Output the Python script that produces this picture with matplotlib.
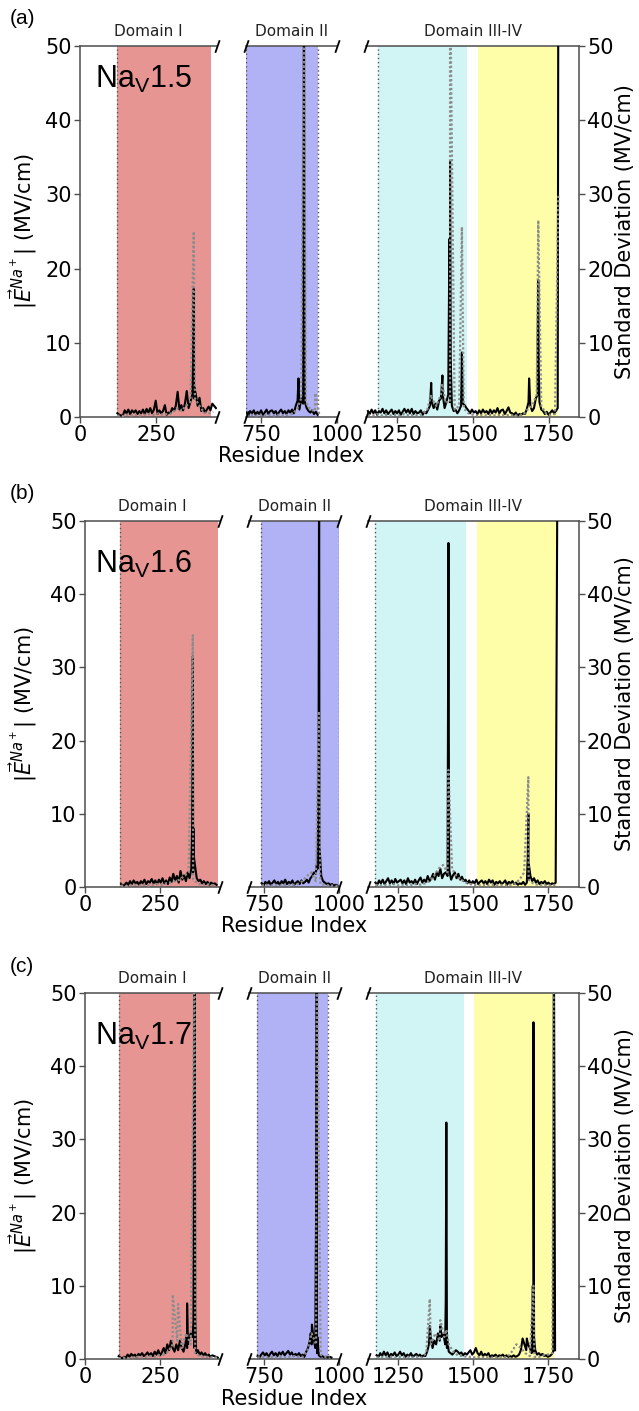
import numpy as np
import matplotlib
matplotlib.use('Agg')
import matplotlib.pyplot as plt

W, H = 639, 1411
fig = plt.figure(figsize=(W / 100, H / 100), dpi=100)

# ---------------- data ----------------
segments = [(0, 450), (700, 1000), (1150, 1850)]
seg_ticks = [[0, 250], [750, 1000], [1250, 1500, 1750]]
domain_titles = ["Domain I", "Domain II", "Domain III-IV"]
panel_letters = ["(a)", "(b)", "(c)"]
channel_names = ["1.5", "1.6", "1.7"]

# domain shading spans (residue index)
spans_a = [(123, 430), (702, 938), (1189, 1481), (1518, 1782)]
spans_b = [(118, 443), (740, 999), (1173, 1476), (1513, 1780)]
spans_c = [(112, 417), (727, 963), (1177, 1470), (1503, 1768)]
bounds_a = [123, 702, 938, 1189]
bounds_b = [118, 740, 999, 1173]
bounds_c = [112, 727, 963, 1177]
span_colors = ["#e79593", "#b1b1f6", "#d1f5f4", "#fefea9"]

MEAN_STEP = 6
STD_STEP = 15

# ---- Nav1.5 ----
a1_start = 123
a1_mean = [0.5, 0.3, 0.2, 0.2, 0.9, 0.5, 1.0, 0.4, 0.9, 0.6, 0.9, 0.4, 0.8, 0.5, 1.0, 0.4,
           1.1, 0.6, 1.2, 0.5, 1.0, 2.2, 0.4, 0.9, 0.5, 0.8, 1.6, 0.3, 0.6, 0.5, 1.2, 0.8,
           1.5, 3.4, 1.0, 1.6, 0.9, 1.8, 3.5, 1.2, 2.0, 3.0, 2.5, 3.0, 1.5, 2.6, 0.8, 1.2,
           0.6, 1.0, 1.4, 0.9, 1.8, 1.5, 1.2]
a1_std = [0.2, 0.1, 0.3, 0.2, 0.3, 0.2, 0.3, 0.4, 0.3, 0.5, 0.3, 0.4, 0.5, 1.2, 0.8, 1.5,
          2.0, 2.5, 1.5, 0.6, 0.5, 0.7]
a2_start = 702
a2_mean = [0.6, 0.2, 0.8, 0.5, 0.9, 0.3, 0.7, 0.4, 0.9, 0.3, 0.6, 1.0, 0.4, 0.8, 0.9, 0.5,
           0.8, 0.3, 0.7, 1.0, 0.5, 0.8, 0.4, 0.9, 0.6, 1.0, 0.5, 1.5, 2.2, 1.0, 2.5, 1.8,
           2.0, 1.2, 0.8, 0.6, 0.9, 0.4, 0.7, 0.3]
a2_std = [0.2, 0.3, 0.2, 0.3, 0.2, 0.3, 0.2, 0.3, 0.2, 0.3, 0.4, 1.0, 2.5, 2.0, 1.0, 0.8, 0.2]
a3_start = 1156
a3_mean = [0.8, 0.4, 1.0, 0.5, 0.9, 0.3, 0.8, 0.6, 1.1, 0.5, 0.9, 0.4, 0.7, 1.0, 0.4, 0.8,
           0.5, 0.9, 0.3, 0.7, 1.1, 0.6, 1.0, 0.5, 1.1, 0.4, 0.8, 0.5, 0.6, 0.9, 0.3, 0.7,
           0.5, 1.0, 1.5, 2.0, 1.2, 1.8, 1.0, 2.2, 2.5, 3.0, 1.2, 2.0, 3.0, 2.0, 1.5, 0.8,
           1.0, 0.5, 0.9, 1.5, 1.8, 1.6, 1.2, 0.9, 0.5, 1.0, 0.6, 0.8, 0.4, 0.9, 0.5, 1.0,
           0.6, 0.8, 0.4, 1.0, 0.5, 0.9, 0.6, 1.2, 0.5, 0.9, 1.0, 0.4, 0.8, 1.3, 0.6, 0.5,
           0.3, 0.6, 0.2, 0.4, 0.3, 0.5, 0.4, 1.0, 2.0, 1.5, 0.8, 1.2, 2.5, 3.0, 2.0, 1.0,
           0.8, 0.4, 0.7, 0.3, 0.6, 0.9, 0.5, 0.8, 1.2]
a3_std = [0.3, 0.2, 0.4, 0.2, 0.3, 0.2, 0.3, 0.2, 0.4, 0.2, 0.3, 0.2, 0.4, 1.0, 2.5, 1.5,
          3.0, 2.0, 2.0, 1.0, 1.5, 1.2, 0.5, 0.3, 0.2, 0.3, 0.2, 0.3, 0.2, 0.3, 0.2, 0.3,
          0.2, 0.2, 0.3, 1.0, 1.5, 3.0, 1.5, 0.5, 0.3, 0.4]
a_peak_res = [372, 374, 376, 873, 889, 891, 893, 1364, 1401, 1424, 1426, 1428, 1465,
              1686, 1714, 1716, 1718, 1782]
a_peak_mean = [7.8, 17.3, 4.0, 5.2, 15.2, 60.0, 6.0, 4.6, 5.6, 24.0, 34.5, 8.0, 8.7,
               5.2, 10.0, 18.5, 6.0, 60.0]
a_peak_std_res = [374, 891, 928, 1364, 1400, 1426, 1465, 1716, 1782]
a_peak_std = [25.0, 60.0, 3.2, 3.0, 4.5, 60.0, 25.6, 26.5, 30.0]

# ---- Nav1.6 ----
b1_start = 120
b1_mean = [0.4, 0.2, 0.3, 0.6, 0.3, 0.8, 0.4, 0.9, 0.5, 0.7, 0.3, 0.8, 0.5, 1.0, 0.4, 0.8,
           0.6, 1.1, 0.5, 0.9, 0.4, 1.0, 0.6, 1.2, 0.5, 0.9, 0.4, 1.3, 0.7, 1.8, 0.9, 1.5,
           0.6, 2.2, 1.0, 1.6, 0.8, 2.0, 1.2, 2.5, 2.0, 3.0, 1.2, 0.8, 1.0, 0.5, 0.8, 0.4,
           0.7, 0.3, 0.6, 0.4, 0.5, 0.3]
b1_std = [0.2, 0.1, 0.2, 0.3, 0.2, 0.3, 0.2, 0.3, 0.4, 0.3, 0.5, 0.6, 0.8, 1.0, 1.5, 2.0,
          1.0, 0.5, 0.3, 0.4, 0.3, 0.2]
b2_start = 742
b2_mean = [0.5, 0.2, 0.7, 0.4, 0.8, 0.3, 0.6, 0.9, 0.4, 0.7, 0.3, 0.8, 0.5, 1.0, 0.4, 0.7,
           0.5, 0.9, 0.3, 0.6, 0.8, 0.4, 0.9, 0.5, 0.7, 1.0, 0.6, 1.2, 1.5, 2.0, 1.8, 2.5,
           3.0, 1.5, 0.8, 0.6, 0.4, 0.5, 0.3, 0.4, 0.2, 0.3, 0.2]
b2_std = [0.2, 0.3, 0.2, 0.3, 0.2, 0.3, 0.2, 0.3, 0.4, 0.8, 1.5, 2.0, 0.8, 0.4, 0.3, 0.2, 0.2, 0.1]
b3_start = 1174
b3_mean = [0.6, 0.3, 0.9, 0.5, 1.0, 0.4, 0.8, 1.2, 0.5, 0.9, 0.4, 1.1, 0.6, 0.8, 1.0, 0.5,
           0.9, 0.4, 1.2, 0.6, 0.8, 0.5, 1.0, 0.4, 0.9, 1.3, 0.6, 1.0, 0.7, 1.5, 0.8, 1.2,
           1.8, 1.0, 2.0, 1.5, 2.5, 1.2, 1.8, 2.0, 1.5, 2.2, 1.0, 1.6, 2.0, 1.2, 1.8, 1.0,
           1.4, 0.8, 1.0, 0.5, 0.9, 0.4, 0.8, 0.5, 1.0, 0.4, 0.7, 0.9, 0.5, 0.8, 0.4, 1.0,
           0.6, 0.9, 0.3, 0.7, 0.5, 0.8, 0.4, 0.6, 0.9, 0.3, 0.7, 0.5, 0.8, 0.4, 0.6, 0.3,
           0.5, 0.4, 0.7, 0.3, 0.6, 1.0, 1.5, 0.8, 1.2, 0.6, 0.9, 0.4, 0.7, 0.5, 0.8, 0.4,
           0.6, 0.3, 0.5, 0.4, 0.6]
b3_std = [0.3, 0.2, 0.3, 0.2, 0.4, 0.2, 0.3, 0.2, 0.3, 0.4, 0.3, 0.5, 0.8, 1.5, 2.5, 3.0,
          2.0, 2.5, 1.5, 1.0, 0.6, 0.4, 0.3, 0.2, 0.3, 0.2, 0.3, 0.2, 0.3, 0.2, 0.3, 0.5,
          1.0, 2.0, 1.0, 0.5, 0.3, 0.2, 0.3, 0.2, 0.3]
b_peak_res = [357, 359, 361, 363, 925, 931, 933, 935, 1415, 1417, 1419, 1681, 1683, 1685, 1780]
b_peak_mean = [9.0, 31.5, 8.0, 4.0, 3.0, 15.0, 60.0, 5.0, 16.0, 47.0, 5.0, 4.0, 10.0, 3.0, 60.0]
b_peak_std_res = [359, 932, 1417, 1683]
b_peak_std = [34.4, 24.0, 16.0, 15.0]

# ---- Nav1.7 ----
c1_start = 112
c1_mean = [0.4, 0.2, 0.1, 0.3, 0.2, 0.6, 0.3, 0.7, 0.4, 0.6, 0.3, 0.7, 0.5, 0.8, 0.4, 0.6,
           0.9, 0.5, 0.8, 0.4, 1.0, 0.6, 1.2, 0.5, 0.9, 1.5, 0.8, 2.0, 1.2, 2.5, 1.5, 1.0,
           2.0, 1.2, 2.5, 1.5, 1.0, 2.0, 1.5, 2.8, 3.5, 3.0, 1.5, 0.8, 1.2, 0.6, 0.9, 0.5,
           0.8, 0.4, 0.6, 0.3, 0.5, 0.4, 0.3, 0.2]
c1_std = [0.1, 0.2, 0.1, 0.2, 0.3, 0.2, 0.3, 0.4, 0.3, 0.5, 0.6, 1.0, 2.0, 2.5, 1.5, 3.5,
          2.0, 0.8, 0.4, 0.3, 0.3, 0.2, 0.2]
c2_start = 728
c2_mean = [0.4, 0.2, 0.6, 0.9, 0.5, 0.8, 0.3, 0.7, 1.0, 0.5, 0.8, 0.4, 0.9, 0.6, 1.0, 0.5,
           0.8, 1.1, 0.6, 0.9, 0.4, 0.7, 0.5, 0.8, 0.4, 0.6, 0.3, 1.0, 1.5, 2.5, 2.0, 3.0,
           1.5, 0.8, 0.5, 0.3, 0.4, 0.2, 0.3, 0.2, 0.3, 0.2]
c2_std = [0.2, 0.3, 0.2, 0.3, 0.2, 0.3, 0.2, 0.3, 0.4, 0.3, 0.3, 1.0, 3.5, 2.0, 0.6, 0.3, 0.2]
c3_start = 1178
c3_mean = [0.5, 0.3, 0.8, 0.4, 1.0, 0.5, 0.9, 0.3, 0.7, 0.5, 0.9, 0.4, 0.6, 1.0, 0.5, 0.8,
           0.3, 0.6, 0.4, 0.8, 0.3, 0.5, 0.7, 0.4, 0.6, 0.3, 0.5, 0.4, 1.0, 2.0, 3.0, 1.5,
           2.5, 2.0, 3.5, 2.5, 3.0, 3.5, 2.0, 1.5, 1.0, 0.8, 0.6, 0.9, 1.2, 1.0, 0.7, 0.9,
           0.5, 0.8, 0.6, 0.9, 1.2, 0.6, 0.9, 1.5, 0.8, 0.5, 1.0, 0.4, 0.7, 0.5, 0.8, 0.3,
           0.5, 0.4, 0.6, 0.3, 0.5, 0.4, 0.6, 0.3, 0.5, 0.3, 0.4, 0.3, 0.5, 0.3, 0.4, 0.6,
           1.2, 2.8, 2.0, 1.2, 2.0, 1.5, 0.8, 1.0, 1.2, 0.6, 0.8, 0.5, 0.7, 0.4, 0.5, 0.3,
           0.4, 0.6, 1.0, 1.2]
c3_std = [0.2, 0.3, 0.2, 0.3, 0.2, 0.3, 0.2, 0.3, 0.2, 0.3, 0.2, 0.8, 2.0, 3.5, 2.5, 3.0,
          2.0, 1.0, 0.5, 0.4, 0.3, 0.3, 0.2, 0.3, 0.2, 0.2, 0.2, 0.3, 0.2, 0.3, 1.0, 2.0,
          1.5, 0.8, 0.4, 0.3, 0.3, 0.5, 0.6, 0.8]
c_peak_res = [338, 340, 342, 361, 363, 365, 367, 905, 909, 921, 923, 925, 927,
              1355, 1390, 1408, 1410, 1412, 1678, 1698, 1700, 1702, 1768]
c_peak_mean = [3.0, 7.6, 2.0, 5.0, 36.3, 60.0, 6.0, 3.5, 4.7, 7.8, 21.0, 60.0, 3.0,
               4.5, 4.5, 8.0, 32.3, 3.0, 2.8, 10.0, 46.0, 3.0, 60.0]
c_peak_std_res = [292, 310, 365, 925, 1355, 1390, 1410, 1700, 1768]
c_peak_std = [8.8, 7.5, 60.0, 60.0, 8.2, 5.3, 4.0, 10.0, 60.0]

panels = [
    dict(segs=[(a1_start, a1_mean, a1_std), (a2_start, a2_mean, a2_std), (a3_start, a3_mean, a3_std)],
         peaks=(a_peak_res, a_peak_mean, a_peak_std_res, a_peak_std), spans=spans_a, bounds=bounds_a,
         box=(80, 579, 46, 417), name_y=64, xlab_y=456),
    dict(segs=[(b1_start, b1_mean, b1_std), (b2_start, b2_mean, b2_std), (b3_start, b3_mean, b3_std)],
         peaks=(b_peak_res, b_peak_mean, b_peak_std_res, b_peak_std), spans=spans_b, bounds=bounds_b,
         box=(85, 578.5, 521, 887), name_y=549, xlab_y=926),
    dict(segs=[(c1_start, c1_mean, c1_std), (c2_start, c2_mean, c2_std), (c3_start, c3_mean, c3_std)],
         peaks=(c_peak_res, c_peak_mean, c_peak_std_res, c_peak_std), spans=spans_c, bounds=bounds_c,
         box=(85, 578.5, 993, 1359), name_y=1021, xlab_y=1399),
]

# ---------------- drawing ----------------
SPINE_C = "#4d4d4d"
TICK_FS = 15
LAB_FS = 15
GAP = 29

for pi, p in enumerate(panels):
    left, right, top, bot = p["box"]
    widths = [s[1] - s[0] for s in segments]
    scale = (right - left - 2 * GAP) / sum(widths)
    pres, pmean, psres, pstd = p["peaks"]
    x0 = left
    axes = []
    for si, (lo, hi) in enumerate(segments):
        wpx = widths[si] * scale
        ax = fig.add_axes([x0 / W, 1 - bot / H, wpx / W, (bot - top) / H])
        x0 += wpx + GAP
        axes.append(ax)
        ax.set_xlim(lo, hi)
        ax.set_ylim(0, 50)
        # shading
        for (s0, s1), col in zip(p["spans"], span_colors):
            ax.axvspan(s0, s1, color=col, lw=0, zorder=0)
        for b in p["bounds"]:
            ax.axvline(b, color="#555555", ls=(0, (1, 2)), lw=1.0, zorder=1)
        # data
        start, mvals, svals = p["segs"][si]
        mres = start + MEAN_STEP * np.arange(len(mvals))
        sres = start + STD_STEP * np.arange(len(svals))
        sel = [(r, v) for r, v in zip(pres, pmean) if lo <= r <= hi]
        allr = np.concatenate([mres, [r for r, _ in sel]])
        allv = np.concatenate([mvals, [v for _, v in sel]])
        o = np.argsort(allr, kind="stable")
        ax.plot(allr[o], allv[o], color="black", lw=1.5, zorder=3)
        sel = [(r, v) for r, v in zip(psres, pstd) if lo <= r <= hi]
        allr = np.concatenate([sres, [r for r, _ in sel]])
        allv = np.concatenate([svals, [v for _, v in sel]])
        o = np.argsort(allr, kind="stable")
        ax.plot(allr[o], allv[o], color="#8c8c8c", lw=1.6, ls=(0, (1, 1)), zorder=4)

        ax.set_xticks(seg_ticks[si])
        ax.tick_params(axis="both", labelsize=TICK_FS, colors="black", length=4, width=1.0, pad=2)
        ax.tick_params(axis="both", color=SPINE_C)
        for sp in ax.spines.values():
            sp.set_color(SPINE_C)
            sp.set_linewidth(1.1)
        ax.set_title(domain_titles[si], fontsize=11, pad=7, color="#222222")
        if si == 0:
            ax.spines["right"].set_visible(False)
            ax.set_yticks([0, 10, 20, 30, 40, 50])
        elif si == 1:
            ax.spines["left"].set_visible(False)
            ax.spines["right"].set_visible(False)
            ax.tick_params(axis="y", left=False, labelleft=False)
        else:
            ax.spines["left"].set_visible(False)
            ax.yaxis.tick_right()
            ax.set_yticks([0, 10, 20, 30, 40, 50])
        # break marks
        mk = dict(marker=[(-0.35, -1), (0.35, 1)], markersize=9, linestyle="none",
                  color="black", mec="black", mew=1.3, clip_on=False, zorder=10)
        if si < 2:
            ax.plot([1, 1], [0, 1], transform=ax.transAxes, **mk)
        if si > 0:
            ax.plot([0, 0], [0, 1], transform=ax.transAxes, **mk)

    ymid = 1 - (top + bot) / 2 / H
    fig.text(23 / W, ymid, r"$|\vec{E}^{Na^+}|$ (MV/cm)", fontsize=LAB_FS, rotation=90,
             ha="center", va="center")
    fig.text(625 / W, ymid, "Standard Deviation (MV/cm)", fontsize=LAB_FS, rotation=90,
             ha="center", va="center")
    mid_ax = axes[1].get_position()
    fig.text((mid_ax.x0 + mid_ax.x1) / 2, 1 - p["xlab_y"] / H, "Residue Index",
             fontsize=LAB_FS, ha="center", va="center")
    # channel name
    fig.text(95 / W, 1 - p["name_y"] / H, r"Na$_\mathregular{V}$" + channel_names[pi],
             fontsize=22, family="Liberation Sans", va="top", ha="left")
    fig.text(10 / W, 1 - (top - 27) / H, panel_letters[pi], fontsize=15,
             family="Liberation Sans", va="center", ha="left")

fig.savefig("out.png", dpi=100)
